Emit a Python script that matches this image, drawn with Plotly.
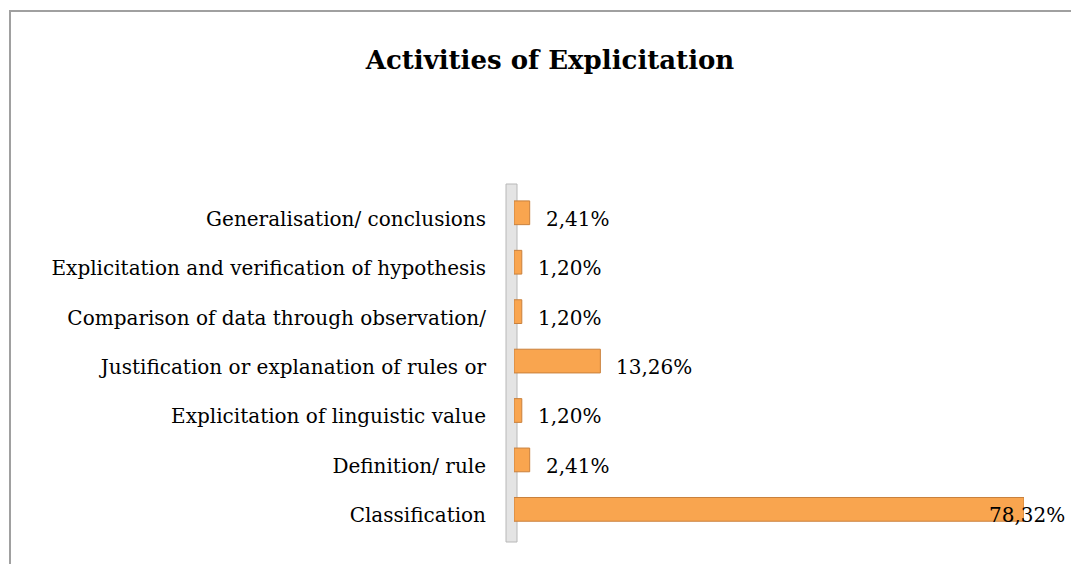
import plotly.graph_objects as go

categories = [
    "Classification",
    "Definition/ rule",
    "Explicitation of linguistic value",
    "Justification or explanation of rules or",
    "Comparison of data through observation/",
    "Explicitation and verification of hypothesis",
    "Generalisation/ conclusions",
]
values = [78.32, 2.41, 1.20, 13.26, 1.20, 1.20, 2.41]
title_text = "Activities of Explicitation"

OFF = 8  # page body margin
W, H = 1079 - 2 * OFF, 564 - OFF
px = lambda x: (x - OFF) / W
py = lambda y: 1 - (y - OFF) / H

font_family = "DejaVu Serif"
labels = [f"{v:.2f}".replace(".", ",") + "%" for v in values]

fig = go.Figure()
fig.add_trace(go.Bar(
    x=values, y=categories, orientation="h",
    marker=dict(color="#F9A54F", line=dict(color="#C9803C", width=1)),
    width=0.48, offset=-0.12, hoverinfo="skip",
))

xmax = max(values)
annotations = []
for c, v, t in zip(categories, values, labels):
    if v < xmax:
        anchor, shift = "left", 14
    else:
        anchor, shift = "right", 43
    annotations.append(dict(x=v, y=c, xref="x", yref="y", text=t, showarrow=False,
                            xanchor=anchor, yanchor="middle", xshift=shift,
                            font=dict(family=font_family, size=20, color="#000000")))

fig.update_layout(
    width=W, height=H,
    margin=dict(l=0, r=0, t=0, b=0),
    paper_bgcolor="white", plot_bgcolor="rgba(0,0,0,0)",
    showlegend=False,
    title=dict(text=f"<b>{title_text}</b>", x=px(550), xanchor="center",
               y=py(60), yanchor="middle",
               font=dict(family=font_family, size=26, color="#000000")),
    xaxis=dict(domain=[px(514), px(1024)], range=[0, xmax], visible=False),
    yaxis=dict(domain=[py(540), py(194)], categoryorder="array", categoryarray=categories,
               showgrid=False, zeroline=False, showline=False, ticks="",
               ticklabelstandoff=27,
               tickfont=dict(family=font_family, size=20, color="#000000")),
    annotations=annotations,
    shapes=[
        dict(type="rect", xref="paper", yref="paper", x0=px(10), x1=1.05, y0=-0.05, y1=py(11),
             line=dict(color="#A0A0A0", width=2), fillcolor="rgba(0,0,0,0)", layer="below"),
        dict(type="rect", xref="paper", yref="paper", x0=px(506), x1=px(517), y0=py(542), y1=py(184),
             line=dict(color="#B8B8B8", width=1), fillcolor="#E4E4E4", layer="below"),
    ],
)

fig.write_html("out.html")
